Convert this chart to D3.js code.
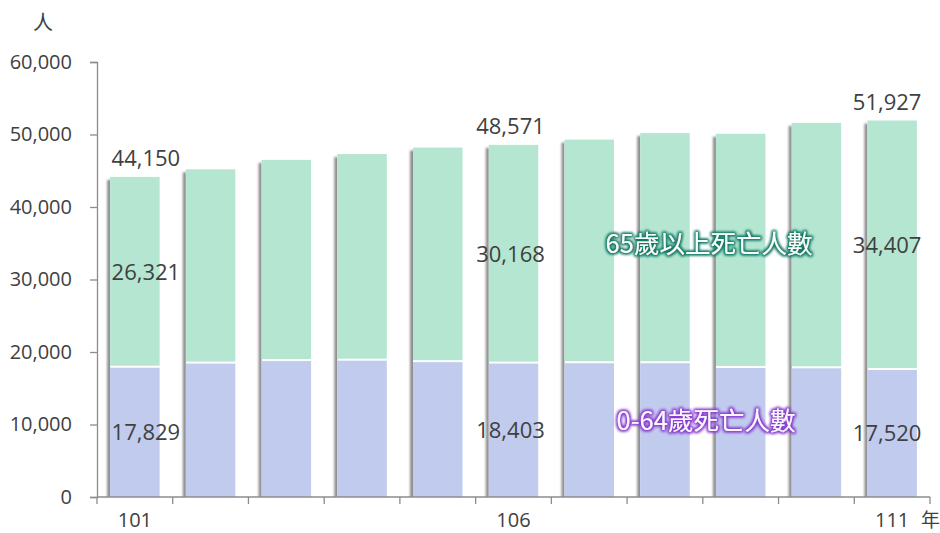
<!DOCTYPE html>
<head>
  <meta charset="utf-8">
  <script src="https://d3js.org/d3.v7.min.js"></script>
  <style>
    body { margin:0; padding:0; background:#fff; }
    text { font-family: "Open Sans", "Noto Sans CJK TC", sans-serif; fill:#404040; }
    .series-label { font-family: "Noto Sans CJK TC", "Open Sans", sans-serif; }
  </style>
</head>
<body>
  <script>
    // data (years in ROC calendar)
    var years = ["101","102","103","104","105","106","107","108","109","110","111"];
    var young = [17829, 18400, 18750, 18800, 18600, 18403, 18450, 18450, 17800, 17750, 17520];  // 0-64歲
    var old   = [26321, 26800, 27750, 28500, 29600, 30168, 30850, 31750, 32300, 33850, 34407];  // 65歲以上
    var totals = [44150, 45200, 46500, 47300, 48200, 48571, 49300, 50200, 50100, 51600, 51927];
    var yTicks = [0, 10000, 20000, 30000, 40000, 50000, 60000];
    var xLabelYears = ["101", "106", "111"];
    var labelled = [0, 5, 10];       // bars that carry value labels
    var labelShift = [11, 0, 0, 0, 0, -3, 0, 0, 0, 0, -5];

    var width = 940, height = 533;
    var margin = {top:62, right:10, bottom:36, left:97};

    var svg = d3.select("body").append("svg")
      .attr("width", width).attr("height", height);

    var defs = svg.append("defs");
    defs.append("filter").attr("id", "shadow")
      .attr("x", "-50%").attr("y", "-10%").attr("width", "200%").attr("height", "120%")
      .append("feGaussianBlur").attr("stdDeviation", 1.3);

    function glow(id, color) {
      var f = defs.append("filter").attr("id", id)
        .attr("x", "-10%").attr("y", "-40%").attr("width", "120%").attr("height", "180%");
      f.append("feMorphology").attr("operator", "dilate").attr("radius", 1.4)
        .attr("in", "SourceAlpha").attr("result", "d");
      f.append("feGaussianBlur").attr("in", "d").attr("stdDeviation", 1.5).attr("result", "b");
      f.append("feFlood").attr("flood-color", color);
      f.append("feComposite").attr("in2", "b").attr("operator", "in").attr("result", "g");
      var m = f.append("feMerge");
      m.append("feMergeNode").attr("in", "g");
      m.append("feMergeNode").attr("in", "g");
      m.append("feMergeNode").attr("in", "SourceGraphic");
    }
    glow("glowGreen", "#137a65");
    glow("glowPurple", "#8a3ccf");

    var x = d3.scaleBand().domain(years)
      .range([margin.left, 930])
      .paddingInner(0.346).paddingOuter(0.173);
    var y = d3.scaleLinear().domain([0, 60000])
      .range([height - margin.bottom, margin.top]);

    var y0 = y(0);
    defs.append("clipPath").attr("id", "plotclip")
      .append("rect").attr("x", 0).attr("y", 0).attr("width", width).attr("height", y0);

    var bars = svg.append("g").attr("clip-path", "url(#plotclip)");

    // soft shadow to the left of each bar
    bars.selectAll("rect.shadow").data(years).enter().append("rect")
      .attr("class", "shadow")
      .attr("x", function(d) { return x(d) - 3; })
      .attr("y", function(d, i) { return y(totals[i]) + 3; })
      .attr("width", x.bandwidth())
      .attr("height", function(d, i) { return y0 - y(totals[i]); })
      .attr("fill", "#6a6a6a")
      .attr("opacity", 0.75)
      .attr("filter", "url(#shadow)");

    // white backing so the gap between segments stays white
    bars.selectAll("rect.back").data(years).enter().append("rect")
      .attr("class", "back")
      .attr("x", function(d) { return x(d); })
      .attr("y", function(d, i) { return y(totals[i]); })
      .attr("width", x.bandwidth())
      .attr("height", function(d, i) { return y0 - y(totals[i]); })
      .attr("fill", "#fff");

    bars.selectAll("rect.young").data(years).enter().append("rect")
      .attr("class", "young")
      .attr("x", function(d) { return x(d); })
      .attr("y", function(d, i) { return y(young[i]); })
      .attr("width", x.bandwidth())
      .attr("height", function(d, i) { return y0 - y(young[i]); })
      .attr("fill", "#c0cbee");

    bars.selectAll("rect.old").data(years).enter().append("rect")
      .attr("class", "old")
      .attr("x", function(d) { return x(d); })
      .attr("y", function(d, i) { return y(young[i] + old[i]); })
      .attr("width", x.bandwidth())
      .attr("height", function(d, i) { return y(young[i]) - y(young[i] + old[i]) - 2; })
      .attr("fill", "#b5e6d1");

    // axes
    var yAxis = d3.axisLeft(y).tickValues(yTicks)
      .tickFormat(d3.format(",")).tickSize(7).tickPadding(18);
    var gy = svg.append("g").attr("transform", "translate(" + margin.left + ",0)").call(yAxis);
    gy.select(".domain").attr("stroke", "#8c8c8c").attr("stroke-width", 1.3);
    gy.selectAll(".tick line").attr("stroke", "#8c8c8c").attr("stroke-width", 1.3);
    gy.selectAll(".tick text").style("font-size", "20px").attr("fill", "#404040");

    var step = x.step();
    var gx = svg.append("g");
    gx.append("line")
      .attr("x1", margin.left).attr("x2", 930)
      .attr("y1", y0).attr("y2", y0)
      .attr("stroke", "#8c8c8c").attr("stroke-width", 1.3);
    gx.selectAll("line.tick").data(d3.range(years.length + 1)).enter().append("line")
      .attr("class", "tick")
      .attr("x1", function(i) { return margin.left + i * step; })
      .attr("x2", function(i) { return margin.left + i * step; })
      .attr("y1", y0).attr("y2", y0 + 7)
      .attr("stroke", "#8c8c8c").attr("stroke-width", 1.3);
    gx.selectAll("text.year").data(xLabelYears).enter().append("text")
      .attr("class", "year")
      .attr("x", function(d) { return x(d) + x.bandwidth() / 2; })
      .attr("y", 527)
      .attr("text-anchor", "middle")
      .style("font-size", "20px")
      .text(function(d) { return d; });
    svg.append("text")
      .attr("x", 921).attr("y", 527)
      .style("font-size", "19px")
      .text("年");
    svg.append("text")
      .attr("x", 43).attr("y", 30)
      .attr("text-anchor", "middle")
      .style("font-size", "20px")
      .text("人");

    // value labels
    var fmt = d3.format(",");
    var lab = svg.append("g").style("font-size", "22px");
    labelled.forEach(function(i) {
      var cx = x(years[i]) + x.bandwidth() / 2 + labelShift[i];
      var tot = young[i] + old[i];
      lab.append("text").attr("x", cx).attr("y", y(tot) - 11)
        .attr("text-anchor", "middle").text(fmt(totals[i]));
      lab.append("text").attr("x", cx).attr("y", (y(tot) + y(young[i])) / 2)
        .attr("dy", "0.36em").attr("text-anchor", "middle").text(fmt(old[i]));
      lab.append("text").attr("x", cx).attr("y", (y(young[i]) + y0) / 2)
        .attr("dy", "0.36em").attr("text-anchor", "middle").text(fmt(young[i]));
    });

    // series names with glow
    svg.append("text").attr("class", "series-label")
      .attr("x", 709).attr("y", 244).attr("dy", "0.36em")
      .attr("text-anchor", "middle")
      .style("font-size", "25.5px").style("fill", "#f4fffb")
      .attr("filter", "url(#glowGreen)")
      .text("65歲以上死亡人數");
    svg.append("text").attr("class", "series-label")
      .attr("x", 706).attr("y", 421).attr("dy", "0.36em")
      .attr("text-anchor", "middle")
      .style("font-size", "25.5px").style("fill", "#fbf6ff")
      .attr("filter", "url(#glowPurple)")
      .text("0-64歲死亡人數");
  </script>
</body>
